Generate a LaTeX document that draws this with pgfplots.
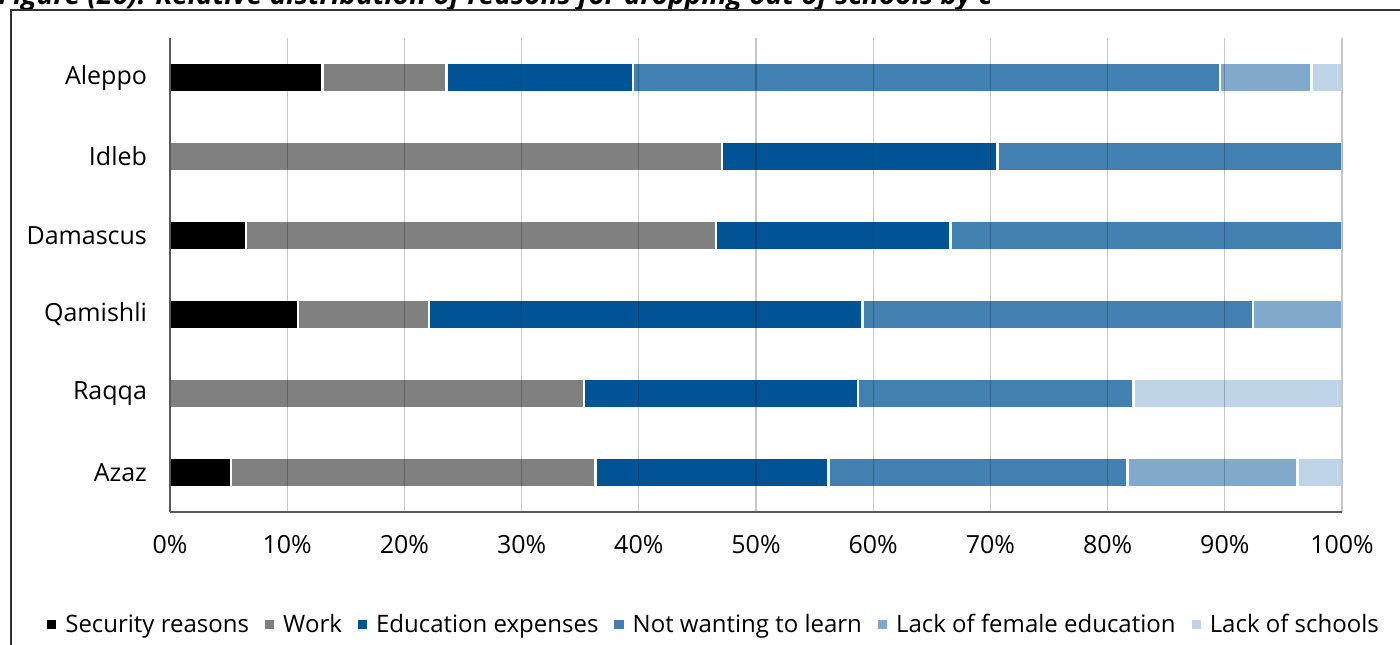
\documentclass[border=0pt]{standalone}
\usepackage{pgfplots}
\pgfplotsset{compat=1.18}
\usepackage{pgfplotstable}
\usepackage{fontspec}
\setmainfont{Open Sans}

\definecolor{csec}{RGB}{0,0,0}
\definecolor{cwork}{RGB}{128,128,128}
\definecolor{cedu}{RGB}{0,84,150}
\definecolor{cnot}{RGB}{65,128,176}
\definecolor{cfem}{RGB}{128,169,204}
\definecolor{csch}{RGB}{191,212,230}

% shares in percent, rows from top to bottom
\pgfplotstableread{
row sec  work edu  notw fem  sch
0   13.0 10.6 15.9 50.1 7.8  2.6
1   0    47.1 23.5 29.4 0    0
2   6.5  40.1 20.0 33.4 0    0
3   10.9 11.2 37.0 33.3 7.6  0
4   0    35.3 23.4 23.5 0    17.8
5   5.2  31.1 19.9 25.5 14.5 3.8
}\reasons

\begin{document}
\begin{tikzpicture}
% pixel grid of the reference: 1px = 0.5pt, y downwards
\node[anchor=base west, inner sep=0pt, font=\fontsize{14}{16}\selectfont\bfseries\itshape]
  at (-1pt,-2pt) {Figure (26): Relative distribution of reasons for dropping out of schools by c};
\draw[black!80, line width=0.9pt] (5.5pt,-330pt) -- (5.5pt,-5pt) -- (710pt,-5pt);

\begin{axis}[
  at={(85pt,-256pt)}, anchor=south west,
  scale only axis,
  width=586pt, height=237pt,
  xbar stacked,
  bar width=15pt,
  y dir=reverse,
  xmin=0, xmax=100,
  ymin=-0.5, ymax=5.5,
  xtick={0,10,...,100},
  xticklabels={0\%,10\%,20\%,30\%,40\%,50\%,60\%,70\%,80\%,90\%,100\%},
  ytick={0,...,5},
  yticklabels={Aleppo,Idleb,Damascus,Qamishli,Raqqa,Azaz},
  major tick length=0pt,
  tick label style={font=\fontsize{12.5}{15}\selectfont},
  xticklabel style={yshift=-8pt},
  yticklabel style={xshift=-8pt},
  axis on top,
  axis x line*=bottom, axis y line*=left,
  axis line style={black!65, line width=0.6pt},
  xmajorgrids,
  major grid style={black, opacity=0.22, line width=0.6pt},
  every axis plot/.append style={draw=white, line width=1.2pt},
  legend columns=6,
  legend style={draw=none, fill=none, at={(0.465,-0.238)}, anchor=center,
    font=\fontsize{12}{14}\selectfont,
    /tikz/every odd column/.append style={column sep=2.5pt},
    /tikz/every even column/.append style={column sep=6pt}},
  legend image code/.code={\fill[#1, draw=none] (0pt,-2.3pt) rectangle (4.6pt,2.3pt);},
]
\addplot[fill=csec] table[x=sec, y=row] {\reasons};
\addplot[fill=cwork] table[x=work, y=row] {\reasons};
\addplot[fill=cedu] table[x=edu, y=row] {\reasons};
\addplot[fill=cnot] table[x=notw, y=row] {\reasons};
\addplot[fill=cfem] table[x=fem, y=row] {\reasons};
\addplot[fill=csch] table[x=sch, y=row] {\reasons};
\legend{Security reasons, Work, Education expenses, Not wanting to learn, Lack of female education, Lack of schools}
\end{axis}

\pgfresetboundingbox
\path[use as bounding box] (0pt,0pt) rectangle (700pt,-322pt);
\end{tikzpicture}
\end{document}
